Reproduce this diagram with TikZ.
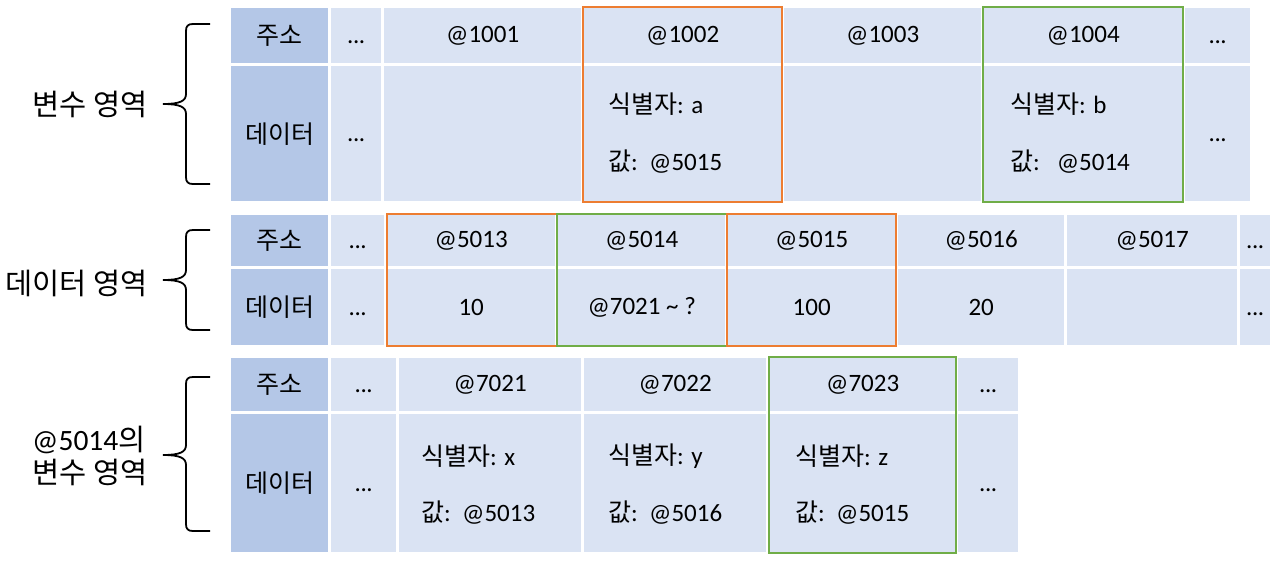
\documentclass[tikz,border=0pt]{standalone}
\usepackage{fontspec}
\setmainfont{Carlito}
\newfontfamily\kr{Noto Sans CJK KR}
\definecolor{hdrblue}{HTML}{B4C7E7}
\definecolor{cellblue}{HTML}{DAE3F3}
\definecolor{orng}{HTML}{ED7D31}
\definecolor{grn}{HTML}{70AD47}
\tikzset{
  hcell/.style={fill=hdrblue,inner sep=0pt,draw=none,anchor=north west,font=\kr\fontsize{25}{30}\selectfont},
  dcell/.style={fill=cellblue,inner sep=0pt,draw=none,anchor=north west,font=\fontsize{25}{30}\selectfont},
  celltxt/.style={anchor=west,inner sep=0pt,font=\fontsize{25}{30}\selectfont},
  side/.style={font=\kr\fontsize{29.5}{35}\selectfont,align=center,inner sep=0pt},
  bracelw/.style={draw=black,line width=1.8pt},
  obox/.style={draw=orng,line width=2.2pt},
  gbox/.style={draw=grn,line width=2.2pt}
}
\newcommand{\K}[1]{{\kr #1}}
\newcommand{\mydots}{\vphantom{0}.\kern-0.5pt.\kern-0.5pt.}
% \cellnode{name}{style}{x1}{y1}{x2}{y2}{text}
\newcommand{\cellnode}[7]{%
  \pgfmathsetmacro\cwd{#5-#3}\pgfmathsetmacro\cht{#6-#4}%
  \node[#2,minimum width=\cwd pt,minimum height=\cht pt] (#1) at (#3,#4) {#7};}
% \bracedraw{name}{y1}{ymid}{y2}
\newcommand{\bracedraw}[4]{%
  \coordinate (#1top) at (210,#2);
  \coordinate (#1tip) at (163,#3);
  \coordinate (#1bot) at (210,#4);
  \draw[bracelw] (#1top) -- (193,#2) .. controls (188,#2) and (186,#2+2) .. (186,#2+7)
    -- (186,#3-10) .. controls (186,#3-3) and (180,#3) .. (#1tip)
    .. controls (180,#3) and (186,#3+3) .. (186,#3+10)
    -- (186,#4-7) .. controls (186,#4-2) and (188,#4) .. (193,#4) -- (#1bot);}
\begin{document}
\begin{tikzpicture}[x=1pt,y=-1pt]
\useasboundingbox (0,0) rectangle (1280,560);
% ===== top table =====
\cellnode{t1h}{hcell}{231}{8}{328}{63}{주소}
\cellnode{t2h}{hcell}{231}{66}{328}{201}{데이터}
\cellnode{t1d0}{dcell}{331}{8}{381}{63}{\mydots}
\cellnode{t2d0}{dcell}{331}{66}{381}{201}{\mydots}
\cellnode{t1a}{dcell}{384}{8}{581}{63}{@1001}
\cellnode{t2a}{dcell}{384}{66}{581}{201}{}
\cellnode{t1b}{dcell}{584}{8}{781}{63}{@1002}
\cellnode{t2b}{dcell}{584}{66}{781}{201}{}
\cellnode{t1c}{dcell}{784}{8}{981}{63}{@1003}
\cellnode{t2c}{dcell}{784}{66}{981}{201}{}
\cellnode{t1d}{dcell}{984}{8}{1182}{63}{@1004}
\cellnode{t2d}{dcell}{984}{66}{1182}{201}{}
\cellnode{t1e}{dcell}{1185}{8}{1250}{63}{\mydots}
\cellnode{t2e}{dcell}{1185}{66}{1250}{201}{\mydots}
\node[celltxt] (ta1) at (608,104) {\K{식별자}: a};
\node[celltxt] (ta2) at (608,162) {\K{값}:\ \ @5015};
\node[celltxt] (tb1) at (1010,104) {\K{식별자}: b};
\node[celltxt] (tb2) at (1010,162) {\K{값}:\ \ \ @5014};
\draw[obox] (583,7) rectangle (782,202);
\draw[gbox] (983,7) rectangle (1183,202);
% ===== middle table =====
\cellnode{m1h}{hcell}{231}{215}{328}{266}{주소}
\cellnode{m2h}{hcell}{231}{269}{328}{345}{데이터}
\cellnode{m1d0}{dcell}{331}{215}{384}{266}{\mydots}
\cellnode{m2d0}{dcell}{331}{269}{384}{345}{\mydots}
\cellnode{m1a}{dcell}{387}{215}{555}{266}{@5013}
\cellnode{m2a}{dcell}{387}{269}{555}{345}{10}
\cellnode{m1b}{dcell}{558}{215}{725}{266}{@5014}
\cellnode{m2b}{dcell}{558}{269}{725}{345}{@7021 \textasciitilde\ ?}
\cellnode{m1c}{dcell}{728}{215}{895}{266}{@5015}
\cellnode{m2c}{dcell}{728}{269}{895}{345}{100}
\cellnode{m1d}{dcell}{898}{215}{1064}{266}{@5016}
\cellnode{m2d}{dcell}{898}{269}{1064}{345}{20}
\cellnode{m1e}{dcell}{1067}{215}{1237}{266}{@5017}
\cellnode{m2e}{dcell}{1067}{269}{1237}{345}{}
\cellnode{m1f}{dcell}{1240}{215}{1270}{266}{\mydots}
\cellnode{m2f}{dcell}{1240}{269}{1270}{345}{\mydots}
\draw[obox] (387,214) rectangle (557,346);
\draw[gbox] (557,214) rectangle (727,346);
\draw[obox] (727,214) rectangle (896,346);
% ===== bottom table =====
\cellnode{b1h}{hcell}{231}{358}{328}{411}{주소}
\cellnode{b2h}{hcell}{231}{414}{328}{552}{데이터}
\cellnode{b1d0}{dcell}{331}{358}{396}{411}{\mydots}
\cellnode{b2d0}{dcell}{331}{414}{396}{552}{\mydots}
\cellnode{b1a}{dcell}{399}{358}{581}{411}{@7021}
\cellnode{b2a}{dcell}{399}{414}{581}{552}{}
\cellnode{b1b}{dcell}{584}{358}{766}{411}{@7022}
\cellnode{b2b}{dcell}{584}{414}{766}{552}{}
\cellnode{b1c}{dcell}{769}{358}{956}{411}{@7023}
\cellnode{b2c}{dcell}{769}{414}{956}{552}{}
\cellnode{b1e}{dcell}{958}{358}{1018}{411}{\mydots}
\cellnode{b2e}{dcell}{958}{414}{1018}{552}{\mydots}
\node[celltxt] (bx1) at (421,456) {\K{식별자}: x};
\node[celltxt] (bx2) at (421,513) {\K{값}:\ \ @5013};
\node[celltxt] (by1) at (608,456) {\K{식별자}: y};
\node[celltxt] (by2) at (608,513) {\K{값}:\ \ @5016};
\node[celltxt] (bz1) at (795,456) {\K{식별자}: z};
\node[celltxt] (bz2) at (795,513) {\K{값}:\ \ @5015};
\draw[gbox] (769,357) rectangle (956,553);
% ===== braces and labels =====
\bracedraw{brA}{24}{104}{184}
\bracedraw{brB}{230}{280}{330}
\bracedraw{brC}{377}{455}{531}
\node[side,anchor=east] (lab1) at (148,104) {변수 영역};
\node[side,anchor=east] (lab2) at (148,283) {데이터 영역};
\node[side,anchor=west,font=\fontsize{29.5}{30}\selectfont] (lab3a) at (32,440) {@5014\K{의}};
\node[side,anchor=west] (lab3b) at (32,472) {변수 영역};
\end{tikzpicture}
\end{document}
